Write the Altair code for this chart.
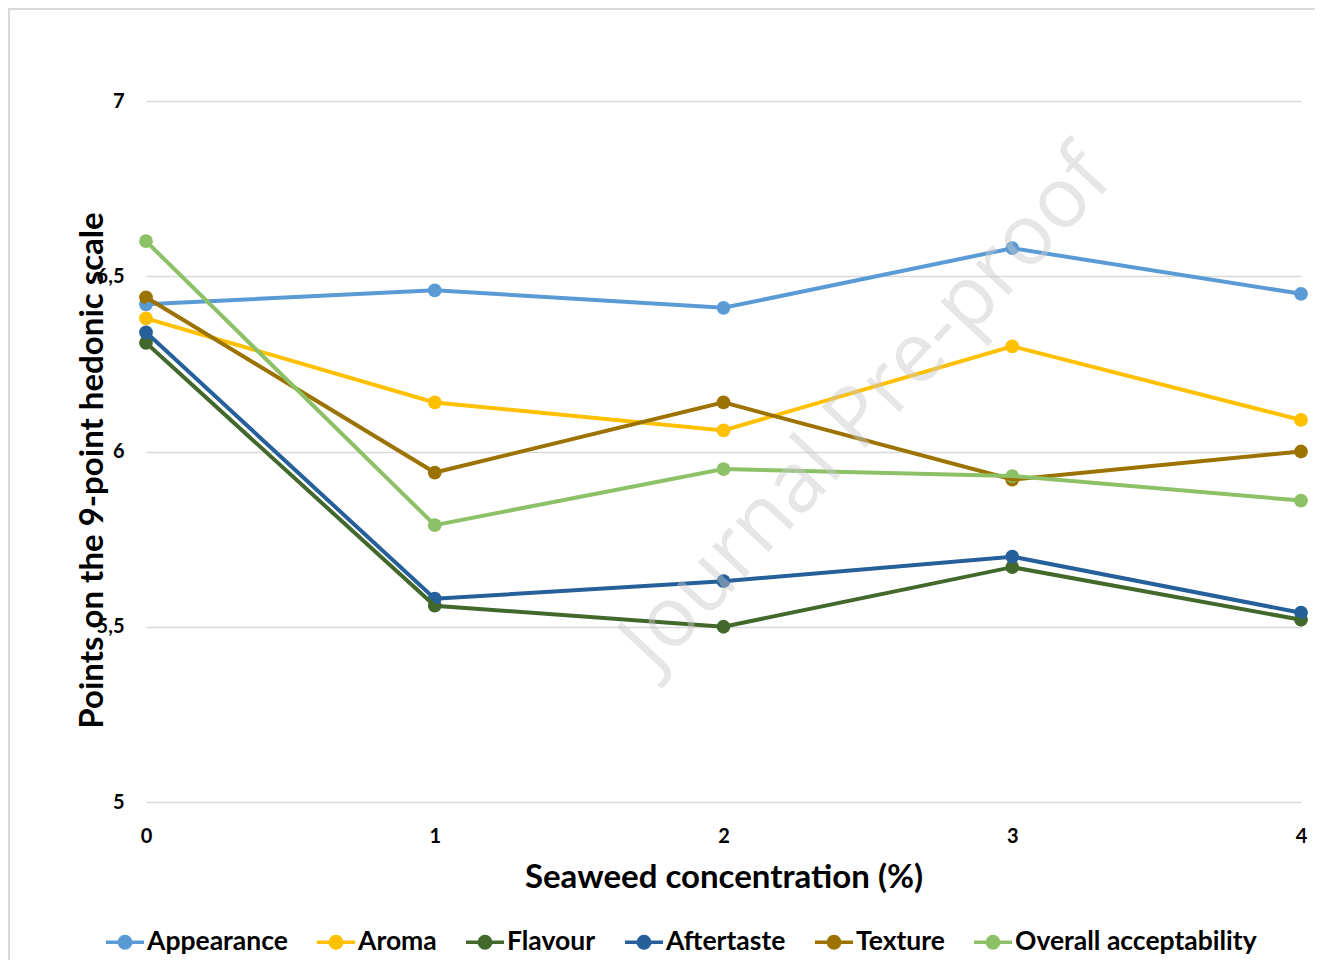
import altair as alt
import pandas as pd

conc = [0, 1, 2, 3, 4]
series_names = ["Appearance", "Aroma", "Flavour", "Aftertaste", "Texture", "Overall acceptability"]
appearance = [6.42, 6.46, 6.41, 6.58, 6.45]
aroma = [6.38, 6.14, 6.06, 6.30, 6.09]
flavour = [6.31, 5.56, 5.50, 5.67, 5.52]
aftertaste = [6.34, 5.58, 5.63, 5.70, 5.54]
texture = [6.44, 5.94, 6.14, 5.92, 6.00]
overall = [6.60, 5.79, 5.95, 5.93, 5.86]
colors = ["#5B9BD5", "#FFC000", "#43682B", "#26609A", "#9C7300", "#8CC168"]
y_ticks = [5, 5.5, 6, 6.5, 7]

values = [appearance, aroma, flavour, aftertaste, texture, overall]
rows = []
for name, vals in zip(series_names, values):
    for c, v in zip(conc, vals):
        rows.append({"conc": c, "score": v, "series": name})
df = pd.DataFrame(rows)

FONT = "Lato"
W, H = 1155, 701

x_enc = alt.X("conc:Q", scale=alt.Scale(domain=[0, 4], nice=False),
              axis=alt.Axis(values=conc, title="Seaweed concentration (%)", grid=False,
                            domain=False, ticks=False, labelPadding=24, labelFlush=False,
                            labelFontSize=20, labelFont=FONT, labelFontWeight="bold",
                            labelColor="#000000", titleFont=FONT, titleFontSize=33,
                            titleFontWeight="bold", titleColor="#000000", titlePadding=15))
y_enc = alt.Y("score:Q", scale=alt.Scale(domain=[5, 7], nice=False),
              axis=alt.Axis(values=y_ticks, title="Points on the 9-point hedonic scale",
                            labelExpr="replace(format(datum.value, '.1~f'), '.', ',')",
                            grid=True, gridColor="#d9d9d9", gridWidth=1.5,
                            domain=False, ticks=False, labelPadding=22, labelFlush=False,
                            labelFontSize=20, labelFont=FONT, labelFontWeight="bold",
                            labelColor="#000000", titleFont=FONT, titleFontSize=33,
                            titleFontWeight="bold", titleColor="#000000",
                            titleX=-54, titleY=369, titleBaseline="middle", titleAngle=-90))
color_enc = alt.Color("series:N", scale=alt.Scale(domain=series_names, range=colors),
                      sort=series_names,
                      legend=alt.Legend(title=None, orient="none", direction="horizontal",
                                        legendX=-42, legendY=820,
                                        symbolType="M-1,0H1M0.3,0A0.3,0.3,0,1,1,-0.3,0A0.3,0.3,0,1,1,0.3,0Z",
                                        symbolSize=1444, symbolStrokeWidth=3.5,
                                        labelFont=FONT, labelFontSize=26.5, labelFontWeight="bold",
                                        labelColor="#000000", labelOffset=1,
                                        columnPadding=22, labelLimit=400))

points = alt.Chart(df).mark_point(filled=True, size=190, opacity=1).encode(
    x=x_enc, y=y_enc, color=color_enc)
lines = alt.Chart(df).mark_line(strokeWidth=4).encode(
    x=x_enc, y=y_enc, color=color_enc)

watermark = alt.Chart(pd.DataFrame({"t": ["Journal Pre-proof"]})).mark_text(
    font="Open Sans", fontSize=84, angle=313, color="#c8c8c8", opacity=0.45,
    align="center", baseline="middle").encode(
    text="t:N", x=alt.value(721), y=alt.value(309))

frame = alt.Chart(pd.DataFrame({"a": [0]})).mark_rect(
    fill=None, stroke="#d9d9d9", strokeWidth=2).encode(
    x=alt.value(-137), x2=alt.value(W + 40), y=alt.value(-92), y2=alt.value(H + 300))

chart = alt.layer(frame, points, lines, watermark).properties(
    width=W, height=H,
    background="white",
    padding={"left": 138, "top": 93, "right": 14, "bottom": 158},
    autosize=alt.AutoSizeParams(type="none"),
).configure_view(strokeWidth=0, stroke="transparent")

chart.save("out.html", embed_options={"renderer": "svg", "actions": False})
